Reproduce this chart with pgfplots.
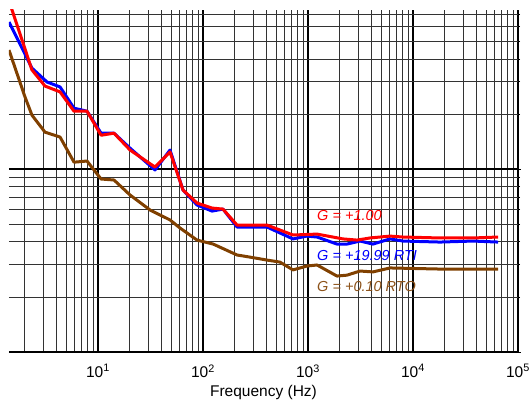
\documentclass[border=0pt]{standalone}
\usepackage{fontspec}
\setmainfont{Liberation Sans}
\usepackage{pgfplots}
\pgfplotsset{compat=1.18}
\usetikzlibrary{calc}
\definecolor{nbrown}{RGB}{128,64,0}
\definecolor{lbrown}{RGB}{140,82,25}

\begin{document}
\begin{tikzpicture}
\begin{axis}[
    name=ax,
    xmode=log, ymode=log,
    scale only axis,
    width=509bp, height=342bp,
    xmin=1.42, xmax=100000,
    ymin=1, ymax=74,
    axis x line*=bottom,
    axis y line*=right,
    axis line style={black, line width=1bp},
    xtick={10,100,1000,10000,100000},
    xticklabels={10\textsuperscript{1},10\textsuperscript{2},10\textsuperscript{3},10\textsuperscript{4},10\textsuperscript{5}},
    minor xtick={2,3,4,5,6,7,8,9,20,30,40,50,60,70,80,90,200,300,400,500,600,700,800,900,2000,3000,4000,5000,6000,7000,8000,9000,20000,30000,40000,50000,60000,70000,80000,90000},
    ytick={1,10},
    yticklabels={},
    minor ytick={2,3,4,5,6,7,8,9,20,30,40,50,60,70},
    grid=both,
    major grid style={black, line width=1.1bp},
    minor grid style={black!80, line width=0.75bp},
    x tick style={draw=none},
    y tick style={black, line width=0.7bp},
    tick align=outside,
    major tick length=3bp, minor tick length=2bp,
    xticklabel style={font=\fontsize{15.5bp}{18bp}\selectfont, yshift=-6bp},
    xlabel={Frequency (Hz)},
    xlabel style={font=\fontsize{15.5bp}{18bp}\selectfont, yshift=-1bp},
    clip=true,
    every axis plot/.append style={line width=3bp, line join=round},
]

% G = +0.10 RTO
\addplot[nbrown] coordinates {
 (1.42,44.7) (2.02,24.7) (2.35,19.7) (3.13,15.9) (4.35,14.96) (5.91,10.9)
 (7.86,11.06) (10.7,8.82) (14.2,8.71) (20.2,7.21) (31.3,5.97) (48.5,5.27)
 (60.4,4.76) (87.7,4.09) (125,3.89) (211,3.39) (281,3.30) (407,3.18)
 (541,3.10) (719,2.81) (977,2.95) (1219,2.99) (1889,2.60) (2350,2.63)
 (3128,2.77) (4155,2.74) (6040,2.88) (18070,2.84) (64570,2.84)
};

% G = +19.99 RTI
\addplot[blue] coordinates {
 (1.42,63.6) (2.35,35.6) (3.27,29.9) (4.35,28.1) (5.91,21.5) (7.86,20.7)
 (10.7,15.7) (14.2,15.7) (20.2,13.0) (34.9,9.88) (48.5,12.7) (64.5,7.68)
 (87.7,6.36) (122,5.89) (155,6.04) (211,4.82) (407,4.82) (719,4.15)
 (977,4.30) (1219,4.25) (1889,3.89) (2350,3.89) (3128,4.04) (4155,3.89)
 (6040,4.15) (8035,4.04) (18070,3.99) (37250,4.04) (64570,3.99)
};

% G = +1.00
\addplot[red] coordinates {
 (1.42,83) (2.35,34.8) (3.13,28.4) (4.35,26.4) (5.91,20.7) (7.86,20.7)
 (10.7,15.3) (14.2,15.7) (20.2,12.7) (34.9,10.25) (48.5,12.4) (64.5,7.68)
 (87.7,6.52) (122,6.12) (155,6.04) (211,4.94) (407,4.94) (719,4.36)
 (1219,4.41) (2154,4.15) (2929,4.09) (3890,4.20) (6040,4.30) (8035,4.25)
 (18070,4.20) (37250,4.20) (64570,4.25)
};

\node[anchor=base west, inner sep=0pt, text=red, font=\fontsize{14.5bp}{17bp}\selectfont\itshape] at (axis cs:1219,5.2) {G = +1.00};
\node[anchor=base west, inner sep=0pt, text=blue, font=\fontsize{14.5bp}{17bp}\selectfont\itshape] at (axis cs:1219,3.18) {G = +19.99 RTI};
\node[anchor=base west, inner sep=0pt, text=lbrown, font=\fontsize{14.5bp}{17bp}\selectfont\itshape] at (axis cs:1219,2.13) {G = +0.10 RTO};
\end{axis}
\pgfresetboundingbox
\path ($(ax.south west)+(-9bp,-50bp)$) rectangle ($(ax.north east)+(13bp,10bp)$);
\end{tikzpicture}
\end{document}
